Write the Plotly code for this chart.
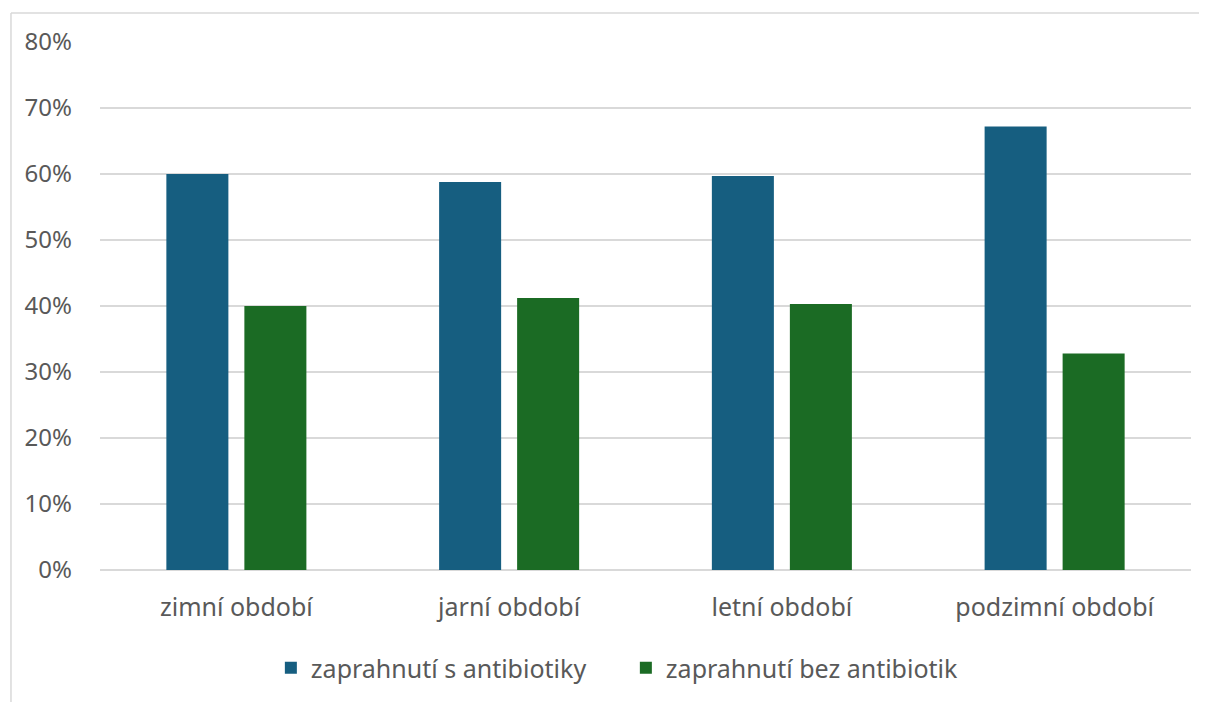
import plotly.graph_objects as go

categories = ["zimní období", "jarní období", "letní období", "podzimní období"]
s_antibiotiky = [0.600, 0.588, 0.597, 0.672]
bez_antibiotik = [0.400, 0.412, 0.403, 0.328]
series_names = ["zaprahnutí s antibiotiky", "zaprahnutí bez antibiotik"]
y_ticks = [0, 0.1, 0.2, 0.3, 0.4, 0.5, 0.6, 0.7, 0.8]

FONT = "Noto Sans"
TXT = "#595959"
BORDER = "#D9D9D9"

fig = go.Figure()
fig.add_trace(go.Bar(x=categories, y=s_antibiotiky, name=series_names[0],
                     marker=dict(color="#165E80", line=dict(width=0))))
fig.add_trace(go.Bar(x=categories, y=bez_antibiotik, name=series_names[1],
                     marker=dict(color="#1B6B24", line=dict(width=0))))

fig.update_layout(
    width=1199, height=694,
    margin=dict(l=92, r=16, t=34, b=131),
    paper_bgcolor="white", plot_bgcolor="white",
    barmode="group", bargap=0.428, bargroupgap=0.205,
    font=dict(family=FONT, size=25, color=TXT),
    showlegend=True,
    legend=dict(orientation="h", x=0.482, xanchor="center", y=-0.1834, yanchor="middle",
                font=dict(family=FONT, size=25, color=TXT), itemwidth=30,
                entrywidth=310, entrywidthmode="pixels",
                traceorder="normal"),
    xaxis=dict(showgrid=False, showline=False, ticks="", ticklabelstandoff=20,
               tickfont=dict(family=FONT, size=25, color=TXT)),
    yaxis=dict(range=[0, 0.8], tickvals=y_ticks, tickformat=".0%",
               showgrid=True, gridcolor="#D9D9D9", gridwidth=1.5,
               zeroline=True, zerolinecolor="#D9D9D9", zerolinewidth=1.5,
               showline=False, ticks="", ticklabelstandoff=27,
               tickfont=dict(family=FONT, size=24, color=TXT)),
    shapes=[
        dict(type="line", xref="paper", yref="paper",
             x0=-0.0816, x1=1.08, y0=1.0548, y1=1.0548,
             line=dict(color=BORDER, width=1.5), layer="below"),
        dict(type="line", xref="paper", yref="paper",
             x0=-0.0816, x1=-0.0816, y0=-0.4, y1=1.0548,
             line=dict(color=BORDER, width=1.5), layer="below"),
    ],
)

fig.write_html("out.html")
